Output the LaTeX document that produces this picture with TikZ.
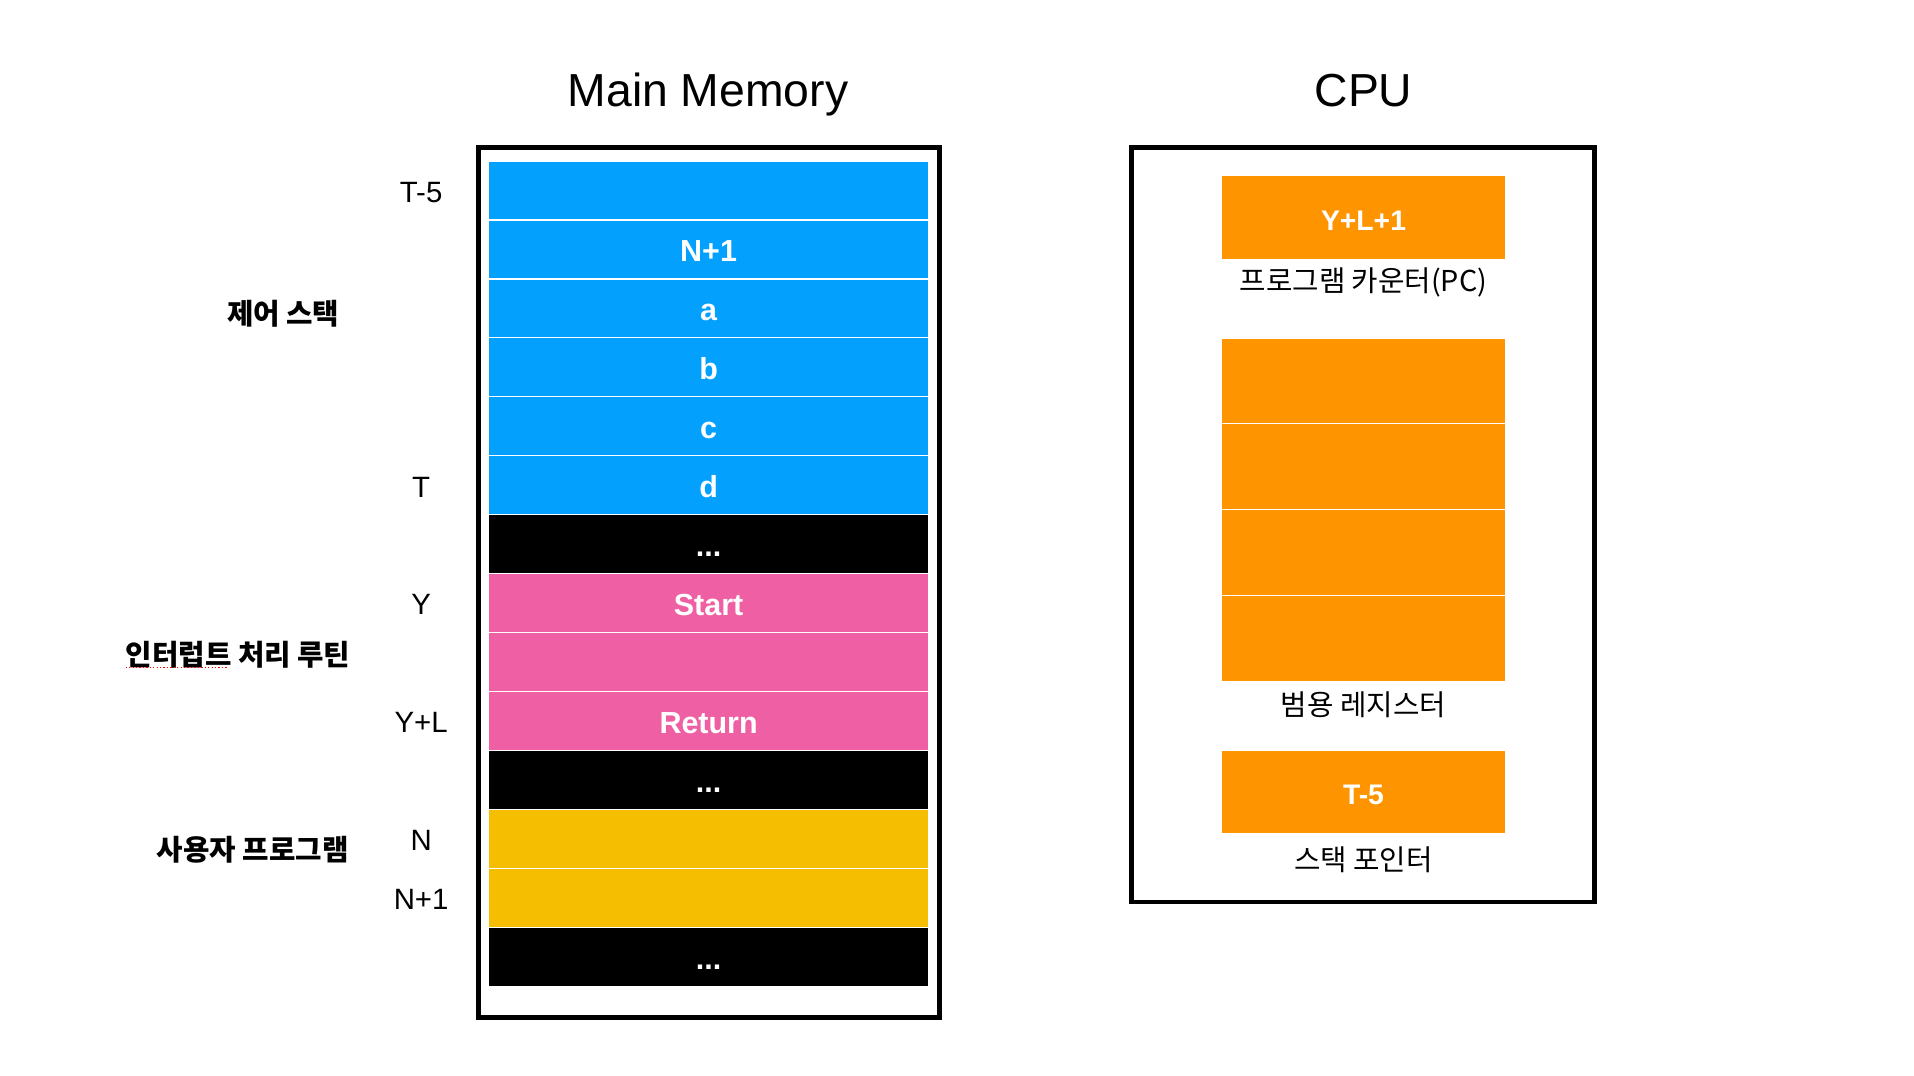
\documentclass[tikz,border=0pt]{standalone}
\usepackage{fontspec}
\setmainfont{Liberation Sans}
\newfontfamily\kr{Noto Sans CJK KR}
\definecolor{memblue}{RGB}{3,160,254}
\definecolor{mempink}{RGB}{238,96,163}
\definecolor{memyellow}{RGB}{246,190,0}
\definecolor{cpuorange}{RGB}{254,149,0}
\begin{document}
\begin{tikzpicture}[x=0.02cm,y=-0.02cm,
  cell/.style={rectangle,minimum width=7.22cm,minimum height=0.9658cm,inner sep=0pt,
    draw=white,line width=0.5pt,text=white,font=\fontsize{14.2}{16}\selectfont\bfseries,
    text height=2.3ex,text depth=0.13ex},
  reg/.style={rectangle,minimum width=4.64cm,inner sep=0pt,fill=cpuorange,
    draw=white,line width=0.5pt,text=white,font=\fontsize{13.2}{15}\selectfont\bfseries,
    text height=2.3ex,text depth=0.13ex},
  addr/.style={font=\fontsize{13.7}{16}\selectfont,inner sep=0pt,text height=2.2ex,text depth=0.13ex},
  grp/.style={font=\kr\fontsize{13.4}{16}\selectfont\bfseries,inner sep=0pt},
  cpulbl/.style={font=\kr\fontsize{13.4}{16}\selectfont,inner sep=0pt},
  title/.style={font=\fontsize{21.6}{26}\selectfont,inner sep=0pt,anchor=base},
  frame/.style={rectangle,draw=black,line width=2.3pt,inner sep=0pt}]
\useasboundingbox[fill=white] (0,0) rectangle (1568,881);

% titles
\node[title] (tmem) at (580,87) {Main Memory};
\node[title] (tcpu) at (1117,87) {CPU};

% frames
\node[frame,minimum width=7.56cm,minimum height=14.26cm] (memframe) at (581,477.5) {};
\node[frame,minimum width=7.58cm,minimum height=12.36cm] (cpuframe) at (1116.5,430) {};

% memory cells
\node[cell,fill=memblue] (m1) at (580.5,156.1) {};
\node[cell,fill=memblue] (m2) at (580.5,204.4) {N+1};
\node[cell,fill=memblue] (m3) at (580.5,252.7) {a};
\node[cell,fill=memblue] (m4) at (580.5,301.0) {b};
\node[cell,fill=memblue] (m5) at (580.5,349.3) {c};
\node[cell,fill=memblue] (m6) at (580.5,397.6) {d};
\node[cell,fill=black] (m7) at (580.5,445.9) {...};
\node[cell,fill=mempink] (m8) at (580.5,494.2) {Start};
\node[cell,fill=mempink] (m9) at (580.5,542.5) {};
\node[cell,fill=mempink] (m10) at (580.5,590.8) {Return};
\node[cell,fill=black] (m11) at (580.5,639.1) {...};
\node[cell,fill=memyellow] (m12) at (580.5,687.4) {};
\node[cell,fill=memyellow] (m13) at (580.5,735.7) {};
\node[cell,fill=black] (m14) at (580.5,784.0) {...};

% addresses
\node[addr] (a1) at (345,156.1) {T-5};
\node[addr] (a6) at (345,397.6) {T};
\node[addr] (a8) at (345,494.2) {Y};
\node[addr] (a10) at (345,590.8) {Y+L};
\node[addr] (a12) at (345,687.4) {N};
\node[addr] (a13) at (345,735.7) {N+1};

% group labels
\node[grp] (gstack) at (232,257) {제어 스택};
\node[grp] (gint) at (195,536) {인터럽트 처리 루틴};
\node[grp] (guser) at (207,696) {사용자 프로그램};
\draw[red,densely dotted,line width=0.6pt] (103,547) -- (187,547);

% CPU
\node[reg,minimum height=1.38cm] (pc) at (1117,178.5) {Y+L+1};
\node[cpulbl] (pclbl) at (1117,231) {프로그램 카운터(PC)};
\node[reg,minimum height=1.405cm] (r1) at (1117,312.1) {};
\node[reg,minimum height=1.405cm] (r2) at (1117,382.4) {};
\node[reg,minimum height=1.405cm] (r3) at (1117,452.6) {};
\node[reg,minimum height=1.405cm] (r4) at (1117,522.9) {};
\node[cpulbl] (rlbl) at (1117,577) {범용 레지스터};
\node[reg,minimum height=1.36cm] (sp) at (1117,649) {T-5};
\node[cpulbl] (splbl) at (1117,704) {스택 포인터};
\end{tikzpicture}
\end{document}
